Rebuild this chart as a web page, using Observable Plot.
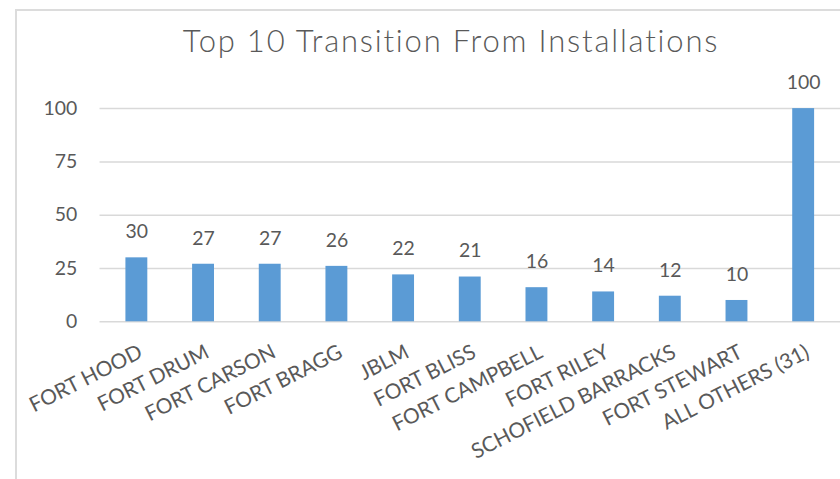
<!DOCTYPE html>
<html>
<head>
<meta charset="utf-8">
<script src="https://cdn.jsdelivr.net/npm/d3@7"></script>
<script src="https://cdn.jsdelivr.net/npm/@observablehq/plot@0.6"></script>
<style>
  html, body { margin: 0; padding: 0; background: #fff; overflow: hidden; width: 840px; height: 479px; }
  #frame { position: absolute; left: 15px; top: 9px; width: 900px; height: 520px;
           border-left: 2px solid #dcdcdc; border-top: 2px solid #dcdcdc; }
  #title { position: absolute; left: 0; width: 902px; top: 22px; text-align: center;
           font-family: Lato, sans-serif; font-weight: 300; font-size: 31px; letter-spacing: 1.8px; color: #595959; line-height: 1.2; }
  #chart { position: absolute; left: 0; top: 70px; }
</style>
</head>
<body>
<div id="frame"></div>
<div id="title">Top 10 Transition From Installations</div>
<div id="chart"></div>
<script>
const installations = ["FORT HOOD", "FORT DRUM", "FORT CARSON", "FORT BRAGG", "JBLM", "FORT BLISS",
  "FORT CAMPBELL", "FORT RILEY", "SCHOFIELD BARRACKS", "FORT STEWART", "ALL OTHERS (31)"];
const counts = [30, 27, 27, 26, 22, 21, 16, 14, 12, 10, 100];
const yTicks = [0, 25, 50, 75, 100];

const data = installations.map((name, i) => ({name, count: counts[i]}));

const plot = Plot.plot({
  width: 844,
  height: 409,
  marginLeft: 100,
  marginRight: 0,
  marginTop: 38.3,
  marginBottom: 156.5,
  style: {fontFamily: "Lato, sans-serif", fontSize: "19.5px", color: "#595959", background: "transparent", overflow: "visible"},
  x: {domain: installations, paddingInner: 0.675, paddingOuter: 0.3375, label: null},
  y: {domain: [0, 100], label: null},
  marks: [
    Plot.ruleY(yTicks, {stroke: "#d9d9d9", strokeWidth: 1.5}),
    Plot.barY(data, {x: "name", y: "count", fill: "#5b9bd5"}),
    Plot.text(data, {x: "name", y: "count", text: d => String(d.count), dy: -26, lineAnchor: "middle", fill: "#595959", fontSize: 19.5}),
    Plot.axisY({ticks: yTicks, tickSize: 0, tickPadding: 23, tickFormat: d => String(d), fill: "#595959", fontSize: 19.5}),
    Plot.axisX({tickSize: 0, tickPadding: 29, tickRotate: -27, dx: 4, fill: "#595959", fontSize: 21})
  ]
});
document.getElementById("chart").appendChild(plot);
</script>
</body>
</html>
